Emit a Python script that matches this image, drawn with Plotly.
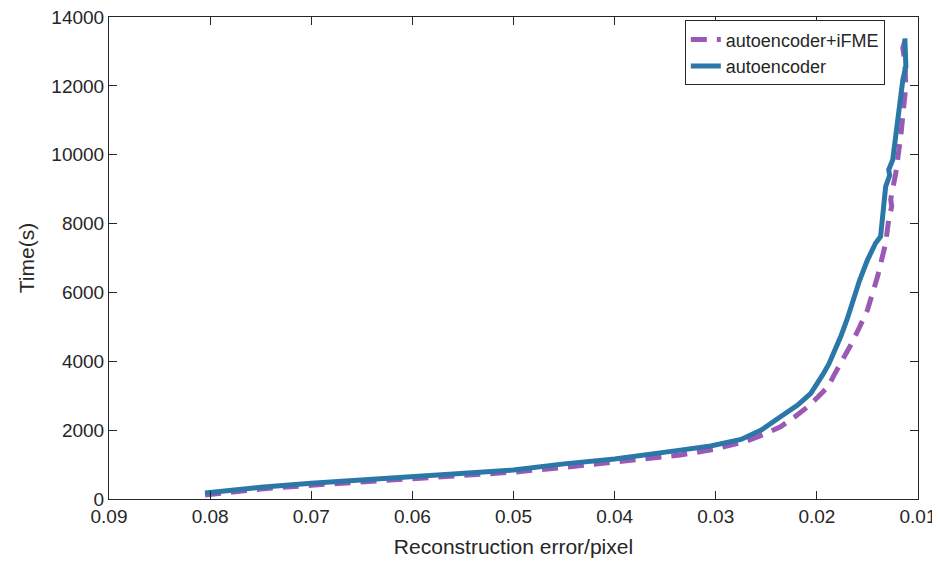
import plotly.graph_objects as go

# autoencoder+iFME (purple dashed)
ifme_err = [0.0805, 0.078, 0.075, 0.070, 0.065, 0.060, 0.055, 0.050, 0.045, 0.040,
            0.0335, 0.0302, 0.0269, 0.0252, 0.0236, 0.0222, 0.0209, 0.0199, 0.0189, 0.0183,
            0.0174, 0.0166, 0.0158, 0.0150, 0.0140, 0.0132, 0.0129, 0.0127, 0.0126,
            0.0127, 0.0125, 0.0122, 0.0117, 0.0114, 0.0112, 0.0113, 0.0115, 0.0113]
ifme_time = [115, 200, 290, 400, 490, 580, 680, 780, 920, 1070,
             1280, 1440, 1685, 1880, 2100, 2380, 2680, 2960, 3260, 3600,
             4050, 4500, 4980, 5490, 6460, 7430, 8100, 8300, 8500,
             8700, 9000, 9460, 10550, 11400, 12000, 12700, 13100, 13300]

# autoencoder (blue solid)
ae_err = [0.0805, 0.078, 0.075, 0.070, 0.065, 0.060, 0.055, 0.050, 0.045, 0.040,
          0.0335, 0.0305, 0.0275, 0.0255, 0.0236, 0.0219, 0.0206, 0.0200, 0.0194, 0.0188,
          0.0182, 0.0176, 0.0170, 0.0166, 0.0158, 0.0150, 0.0142, 0.0137, 0.0136,
          0.0135, 0.0133, 0.0132, 0.0128, 0.0129, 0.0125, 0.0123, 0.01185, 0.0115,
          0.0112, 0.0112, 0.0113]
ae_time = [175, 260, 340, 455, 550, 650, 745, 840, 1020, 1160,
           1420, 1540, 1730, 2000, 2390, 2730, 3070, 3320, 3620, 3930,
           4300, 4750, 5230, 5600, 6330, 6940, 7430, 7620, 7900,
           8390, 8700, 9070, 9400, 9560, 9850, 10300, 11200, 12170,
           12560, 13040, 13380]

x_ticks = [0.09, 0.08, 0.07, 0.06, 0.05, 0.04, 0.03, 0.02, 0.01]
x_labels = ["0.09", "0.08", "0.07", "0.06", "0.05", "0.04", "0.03", "0.02", "0.01"]
y_ticks = [0, 2000, 4000, 6000, 8000, 10000, 12000, 14000]
y_labels = ["0", "2000", "4000", "6000", "8000", "10000", "12000", "14000"]

FONT = "Liberation Sans, Arial, sans-serif"
TXT = "#262626"

fig = go.Figure()
fig.add_trace(go.Scatter(
    x=ifme_err, y=ifme_time, mode="lines", name="autoencoder+iFME",
    line=dict(color="#9b59b6", width=5, dash="16px,10px"),
))
fig.add_trace(go.Scatter(
    x=ae_err, y=ae_time, mode="lines", name="autoencoder",
    line=dict(color="#2a77a8", width=5),
))

axis_common = dict(
    showgrid=False, zeroline=False, showline=True, linecolor=TXT, linewidth=1,
    mirror="allticks", ticks="inside", ticklen=8, tickcolor=TXT, tickwidth=1,
    tickfont=dict(family=FONT, size=19, color=TXT), automargin=False,
    ticklabeloverflow="allow",
)

# page body has an 8px default margin, so the figure is sized/offset to compensate
fig.update_layout(
    width=932, height=554,
    paper_bgcolor="white", plot_bgcolor="white",
    margin=dict(l=101, r=22, t=9, b=63),
    font=dict(family=FONT, color=TXT),
    xaxis=dict(
        range=[0.09, 0.01], tickvals=x_ticks, ticktext=x_labels,
        title=dict(text="Reconstruction error/pixel", font=dict(family=FONT, size=21, color=TXT), standoff=13),
        **axis_common,
    ),
    yaxis=dict(
        range=[0, 14000], tickvals=y_ticks, ticktext=y_labels,
        title=dict(text="Time(s)", font=dict(family=FONT, size=21, color=TXT), standoff=11),
        **axis_common,
    ),
    legend=dict(
        x=0.959, y=0.993, xanchor="right", yanchor="top",
        bgcolor="white", bordercolor=TXT, borderwidth=1,
        font=dict(family=FONT, size=18, color=TXT),
        tracegroupgap=0, itemwidth=30,
    ),
    showlegend=True,
)

fig.write_html("out.html")
